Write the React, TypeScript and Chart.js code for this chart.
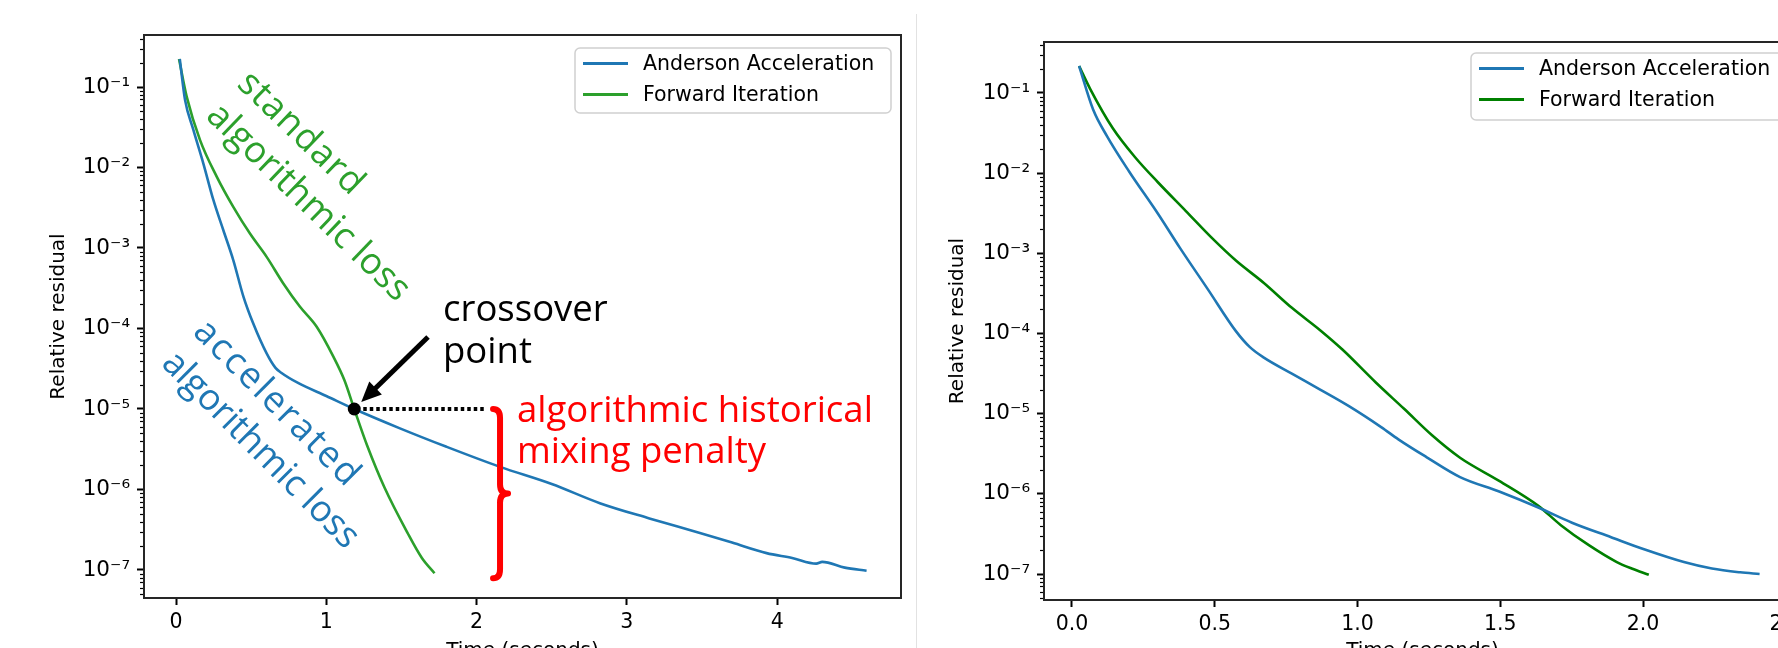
import React, { useEffect, useRef } from "react";
import { Chart, registerables } from "chart.js";
Chart.register(...registerables);

// ---------- data ----------
// Left panel
const leftAATime = [0.025, 0.06, 0.115, 0.182, 0.248, 0.315, 0.381, 0.448, 0.514, 0.603, 0.662, 0.70, 0.815, 1.0, 1.186, 1.49, 1.8, 2.156, 2.5, 2.82, 3.15, 3.486, 3.7, 3.93, 4.1, 4.26, 4.3, 4.45, 4.595];
const leftAAResidual = [2.23e-1, 6.92e-2, 2.95e-2, 1.12e-2, 3.98e-3, 1.66e-3, 7.08e-4, 2.51e-4, 1.15e-4, 4.9e-5, 3.24e-5, 2.82e-5, 2.09e-5, 1.45e-5, 1.0e-5, 5.75e-6, 3.39e-6, 1.91e-6, 1.17e-6, 6.76e-7, 4.37e-7, 2.88e-7, 2.19e-7, 1.62e-7, 1.41e-7, 1.2e-7, 1.26e-7, 1.07e-7, 9.77e-8];
const leftFITime = [0.02, 0.071, 0.16, 0.27, 0.381, 0.492, 0.603, 0.714, 0.825, 0.936, 1.047, 1.12, 1.186, 1.273, 1.388, 1.541, 1.636, 1.72];
const leftFIResidual = [2.23e-1, 7.59e-2, 2.19e-2, 7.76e-3, 3.24e-3, 1.51e-3, 7.76e-4, 3.63e-4, 1.86e-4, 1.05e-4, 4.47e-5, 2.29e-5, 1.0e-5, 3.47e-6, 1.05e-6, 2.88e-7, 1.41e-7, 9.12e-8];

// Right panel
const rightAATime = [0.025, 0.074, 0.123, 0.2, 0.3, 0.378, 0.476, 0.574, 0.623, 0.672, 0.77, 0.869, 0.967, 1.084, 1.143, 1.241, 1.359, 1.496, 1.633, 1.751, 1.888, 2.006, 2.143, 2.241, 2.34, 2.408];
const rightAAResidual = [2.17e-1, 6.22e-2, 2.88e-2, 1.05e-2, 3.16e-3, 1.17e-3, 3.55e-4, 1.07e-4, 6.76e-5, 5.01e-5, 3.16e-5, 2.0e-5, 1.26e-5, 6.76e-6, 4.79e-6, 2.88e-6, 1.62e-6, 1.07e-6, 6.76e-7, 4.37e-7, 2.88e-7, 2.02e-7, 1.41e-7, 1.17e-7, 1.05e-7, 1.0e-7];
const rightFITime = [0.025, 0.064, 0.143, 0.221, 0.3, 0.398, 0.496, 0.574, 0.672, 0.77, 0.869, 0.947, 1.064, 1.163, 1.261, 1.359, 1.496, 1.633, 1.712, 1.81, 1.908, 1.96, 2.02];
const rightFIResidual = [2.17e-1, 1.12e-1, 3.63e-2, 1.58e-2, 7.76e-3, 3.39e-3, 1.48e-3, 8.13e-4, 4.27e-4, 2.09e-4, 1.1e-4, 6.31e-5, 2.45e-5, 1.15e-5, 5.37e-6, 2.82e-6, 1.45e-6, 7.08e-7, 4.07e-7, 2.29e-7, 1.41e-7, 1.17e-7, 9.77e-8];

const seriesLabels = ["Anderson Acceleration", "Forward Iteration"];

const yTickValues = [1e-7, 1e-6, 1e-5, 1e-4, 1e-3, 1e-2, 1e-1];
const yTickLabels = ["10⁻⁷", "10⁻⁶", "10⁻⁵", "10⁻⁴", "10⁻³", "10⁻²", "10⁻¹"];
const leftXTicks = [0, 1, 2, 3, 4];
const leftXTickLabels = ["0", "1", "2", "3", "4"];
const rightXTicks = [0, 0.5, 1.0, 1.5, 2.0, 2.5];
const rightXTickLabels = ["0.0", "0.5", "1.0", "1.5", "2.0", "2.5"];

const crossoverPoint = { t: 1.186, v: 1e-5 };
const braceRange = { t: 2.156, vTop: 1e-5, vBottom: 7.9e-8 };

// ---------- styling ----------
const FONT = "'DejaVu Sans', sans-serif";
const NOTE_FONT = "'Open Sans', sans-serif";
const BLUE = "#1f77b4";
const GREEN_L = "#2ca02c";
const GREEN_R = "#008000";

const zip = (t: number[], v: number[]) => t.map((x, i) => ({ x, y: v[i] }));

function framePlugin() {
  return {
    id: "frame",
    afterDraw(chart: any) {
      const { ctx, chartArea: a } = chart;
      const y = chart.scales.y;
      ctx.save();
      ctx.strokeStyle = "#000";
      ctx.lineWidth = 1.2;
      for (let k = -9; k <= 0; k++) {
        for (let m = 2; m <= 9; m++) {
          const v = m * Math.pow(10, k);
          if (v < y.min || v > y.max) continue;
          const py = Math.round(y.getPixelForValue(v)) + 0.5;
          ctx.beginPath();
          ctx.moveTo(a.left, py);
          ctx.lineTo(a.left - 4, py);
          ctx.stroke();
        }
      }
      ctx.lineWidth = 2;
      ctx.strokeStyle = "#262626";
      ctx.strokeRect(a.left, a.top, a.right - a.left, a.bottom - a.top);
      ctx.restore();
    },
  };
}

function legendPlugin(box: { dx: number; dy: number; w: number; h: number }) {
  return {
    id: "mplLegend",
    afterDraw(chart: any) {
      const { ctx, chartArea: a } = chart;
      const x = a.left + box.dx;
      const y = a.top + box.dy;
      ctx.save();
      ctx.beginPath();
      ctx.roundRect(x, y, box.w, box.h, 5);
      ctx.fillStyle = "rgba(255,255,255,0.85)";
      ctx.fill();
      ctx.strokeStyle = "#d0d0d0";
      ctx.lineWidth = 1.5;
      ctx.stroke();
      ctx.font = `20.5px ${FONT}`;
      ctx.textBaseline = "middle";
      ctx.textAlign = "left";
      chart.data.datasets.forEach((ds: any, i: number) => {
        const ry = y + 15.5 + i * 31;
        ctx.strokeStyle = ds.borderColor;
        ctx.lineWidth = 2.8;
        ctx.beginPath();
        ctx.moveTo(x + 8, ry);
        ctx.lineTo(x + 53, ry);
        ctx.stroke();
        ctx.fillStyle = "#000";
        ctx.fillText(ds.label, x + 68, ry + 1);
      });
      ctx.restore();
    },
  };
}

const notes = [
  { lines: ["standard", "algorithmic loss"], spacing: [1, 0], color: GREEN_L, x: 243, y: 78, angle: 44, lh: 44.5, base: "middle" },
  { lines: ["accelerated", "algorithmic loss"], spacing: [2.2, -0.3], color: BLUE, x: 199, y: 326, angle: 45, lh: 44.5, base: "middle" },
  { lines: ["crossover", "point"], spacing: [0, 0], color: "#000", x: 443, y: 321, angle: 0, lh: 42, base: "alphabetic" },
  { lines: ["algorithmic historical", "mixing penalty"], spacing: [0, 0], color: "#ff0000", x: 517, y: 422, angle: 0, lh: 41, base: "alphabetic" },
];

function annotationPlugin() {
  return {
    id: "notes",
    afterDatasetsDraw(chart: any) {
      const { ctx } = chart;
      const xs = chart.scales.x;
      const ys = chart.scales.y;
      ctx.save();
      ctx.font = `36.5px ${NOTE_FONT}`;
      ctx.textAlign = "left";
      for (const n of notes) {
        ctx.save();
        ctx.translate(n.x, n.y);
        ctx.rotate((n.angle * Math.PI) / 180);
        ctx.fillStyle = n.color;
        ctx.textBaseline = n.base as CanvasTextBaseline;
        n.lines.forEach((ln, i) => {
          (ctx as any).letterSpacing = `${n.spacing[i]}px`;
          ctx.fillText(ln, 0, i * n.lh);
        });
        (ctx as any).letterSpacing = "0px";
        ctx.restore();
      }
      const cx = xs.getPixelForValue(crossoverPoint.t);
      const cy = ys.getPixelForValue(crossoverPoint.v);
      const bx = xs.getPixelForValue(braceRange.t);
      const bTop = ys.getPixelForValue(braceRange.vTop);
      const bBot = ys.getPixelForValue(braceRange.vBottom);
      // dotted line
      ctx.strokeStyle = "#000";
      ctx.lineWidth = 4;
      ctx.setLineDash([3.5, 3]);
      ctx.beginPath();
      ctx.moveTo(cx + 9, cy);
      ctx.lineTo(bx - 14, cy);
      ctx.stroke();
      ctx.setLineDash([]);
      ctx.fillStyle = "#000";
      ctx.beginPath();
      ctx.arc(cx, cy, 6.5, 0, Math.PI * 2);
      ctx.fill();
      // arrow
      const sx = 428, sy = 337;
      const tx = cx + 7, ty = cy - 7;
      const L = Math.hypot(tx - sx, ty - sy);
      const ux = (tx - sx) / L, uy = (ty - sy) / L;
      const hl = 20, hw = 9;
      const hbx = tx - ux * hl, hby = ty - uy * hl;
      ctx.lineWidth = 5;
      ctx.beginPath();
      ctx.moveTo(sx, sy);
      ctx.lineTo(hbx + ux * 2, hby + uy * 2);
      ctx.stroke();
      ctx.beginPath();
      ctx.moveTo(tx, ty);
      ctx.lineTo(hbx - uy * hw, hby + ux * hw);
      ctx.lineTo(hbx + uy * hw, hby - ux * hw);
      ctx.closePath();
      ctx.fill();
      // brace
      ctx.strokeStyle = "#ff0000";
      ctx.lineWidth = 6;
      ctx.lineCap = "round";
      ctx.lineJoin = "round";
      const mid = (bTop + bBot) / 2;
      const vx = bx;
      ctx.beginPath();
      ctx.moveTo(vx - 7, bTop);
      ctx.quadraticCurveTo(vx, bTop, vx, bTop + 9);
      ctx.lineTo(vx, mid - 9);
      ctx.quadraticCurveTo(vx, mid, vx + 8, mid);
      ctx.quadraticCurveTo(vx, mid, vx, mid + 9);
      ctx.lineTo(vx, bBot - 9);
      ctx.quadraticCurveTo(vx, bBot, vx - 7, bBot);
      ctx.stroke();
      ctx.restore();
    },
  };
}

type PanelOpts = {
  aa: { x: number; y: number }[];
  fi: { x: number; y: number }[];
  green: string;
  xMin: number;
  xMax: number;
  yMin: number;
  yMax: number;
  xTicks: number[];
  xLabels: string[];
  plotLeft: number;
  plotTop: number;
  plotRight: number;
  plotBottom: number;
  canvasW: number;
  canvasH: number;
  yTitlePad: number;
  legend: { dx: number; dy: number; w: number; h: number };
  notes: boolean;
};

function makeConfig(o: PanelOpts): any {
  const plugins: any[] = [];
  if (o.notes) plugins.push(annotationPlugin());
  plugins.push(framePlugin());
  plugins.push(legendPlugin(o.legend));
  const tickFont = { family: FONT, size: 20.5 };
  return {
    type: "line",
    data: {
      datasets: [
        { label: seriesLabels[0], data: o.aa, borderColor: BLUE, backgroundColor: BLUE, borderWidth: 2.6, pointRadius: 0, cubicInterpolationMode: "monotone", fill: false },
        { label: seriesLabels[1], data: o.fi, borderColor: o.green, backgroundColor: o.green, borderWidth: 2.6, pointRadius: 0, cubicInterpolationMode: "monotone", fill: false },
      ],
    },
    options: {
      animation: false,
      responsive: false,
      devicePixelRatio: 1,
      layout: { padding: { left: 0, top: o.plotTop, right: o.canvasW - o.plotRight, bottom: 0 } },
      plugins: { legend: { display: false }, tooltip: { enabled: false } },
      scales: {
        x: {
          type: "linear",
          min: o.xMin,
          max: o.xMax,
          afterBuildTicks: (s: any) => {
            s.ticks = o.xTicks.map((v) => ({ value: v }));
          },
          afterFit: (s: any) => {
            s.height = o.canvasH - o.plotBottom;
          },
          ticks: {
            callback: (_v: any, i: number) => o.xLabels[i],
            font: tickFont,
            color: "#000",
            padding: 5,
            autoSkip: false,
            maxRotation: 0,
          },
          grid: { drawOnChartArea: false, drawTicks: true, tickLength: 7, tickWidth: 2, tickColor: "#000" },
          border: { display: false },
          title: { display: true, text: "Time (seconds)", font: { family: FONT, size: 20 }, color: "#000", padding: { top: 0, bottom: 17 } },
        },
        y: {
          type: "logarithmic",
          min: o.yMin,
          max: o.yMax,
          afterBuildTicks: (s: any) => {
            s.ticks = yTickValues.map((v) => ({ value: v, major: true }));
          },
          afterFit: (s: any) => {
            s.width = o.plotLeft;
          },
          ticks: {
            callback: (_v: any, i: number) => yTickLabels[i],
            font: { family: FONT, size: 21.5 },
            color: "#000",
            padding: 7,
            autoSkip: false,
          },
          grid: { drawOnChartArea: false, drawTicks: true, tickLength: 7, tickWidth: 2, tickColor: "#000" },
          border: { display: false },
          title: { display: true, text: "Relative residual", font: { family: FONT, size: 20 }, color: "#000", padding: { top: o.yTitlePad, bottom: 0 } },
        },
      },
    },
    plugins,
  };
}

export default function App() {
  const leftRef = useRef<HTMLCanvasElement>(null);
  const rightRef = useRef<HTMLCanvasElement>(null);

  useEffect(() => {
    const left = new Chart(
      leftRef.current!,
      makeConfig({
        aa: zip(leftAATime, leftAAResidual),
        fi: zip(leftFITime, leftFIResidual),
        green: GREEN_L,
        xMin: -0.213,
        xMax: 4.824,
        yMin: Math.pow(10, -7.348),
        yMax: Math.pow(10, -0.354),
        xTicks: leftXTicks,
        xLabels: leftXTickLabels,
        plotLeft: 144,
        plotTop: 35,
        plotRight: 901,
        plotBottom: 598,
        canvasW: 917,
        canvasH: 680,
        yTitlePad: 47,
        legend: { dx: 431, dy: 13, w: 316, h: 65 },
        notes: true,
      })
    );
    const right = new Chart(
      rightRef.current!,
      makeConfig({
        aa: zip(rightAATime, rightAAResidual),
        fi: zip(rightFITime, rightFIResidual),
        green: GREEN_R,
        xMin: -0.098,
        xMax: 2.553,
        yMin: Math.pow(10, -7.324),
        yMax: Math.pow(10, -0.364),
        xTicks: rightXTicks,
        xLabels: rightXTickLabels,
        plotLeft: 127,
        plotTop: 42,
        plotRight: 884,
        plotBottom: 600,
        canvasW: 900,
        canvasH: 680,
        yTitlePad: 29,
        legend: { dx: 427, dy: 11, w: 330, h: 67 },
        notes: false,
      })
    );
    return () => {
      left.destroy();
      right.destroy();
    };
  }, []);

  return (
    <div style={{ position: "absolute", left: 0, top: 0, width: 1778, height: 648, overflow: "hidden", background: "#fff" }}>
      <canvas ref={leftRef} width={917} height={680} style={{ position: "absolute", left: 0, top: 0, width: 917, height: 680 }} />
      <div style={{ position: "absolute", left: 916, top: 14, width: 1, height: 634, background: "#e2e2e2" }} />
      <canvas ref={rightRef} width={900} height={680} style={{ position: "absolute", left: 917, top: 0, width: 900, height: 680 }} />
    </div>
  );
}
